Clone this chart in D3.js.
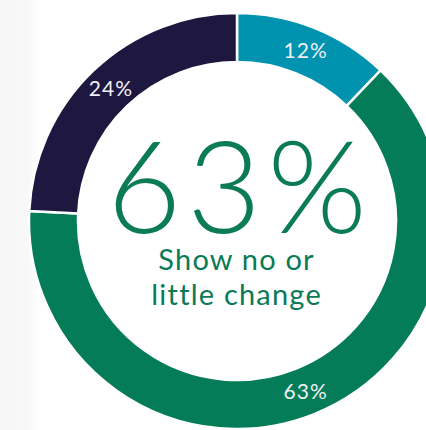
<!DOCTYPE html>
<html>
<head>
<meta charset="utf-8">
<script src="https://cdn.jsdelivr.net/npm/d3@7"></script>
<style>
  html, body { margin: 0; padding: 0; background: #ffffff; }
  svg { display: block; }
</style>
</head>
<body>
<script>
// Share of respondents by amount of change
const categories = ["Large change", "Show no or little change", "Some change"];
const values = [12, 63, 24];
const colors = ["#0093b0", "#047c57", "#1e1840"];
const headline = "63%";
const caption = ["Show no or", "little change"];

const width = 426, height = 430;
const cx = 237, cy = 221;
const outerR = 208, innerR = 159;
const fontFamily = "Lato, 'Open Sans', sans-serif";

const svg = d3.select("body").append("svg")
  .attr("width", width)
  .attr("height", height);

// soft grey page edge on the left
const defs = svg.append("defs");
const grad = defs.append("linearGradient").attr("id", "edge").attr("x1", 0).attr("x2", 1);
grad.append("stop").attr("offset", "0%").attr("stop-color", "#f6f6f6");
grad.append("stop").attr("offset", "70%").attr("stop-color", "#f8f8f8");
grad.append("stop").attr("offset", "100%").attr("stop-color", "#ffffff");
svg.append("rect").attr("x", 0).attr("y", 0).attr("width", 40).attr("height", height)
  .attr("fill", "url(#edge)");

const pie = d3.pie().sort(null).value(d => d)(values);
const arc = d3.arc().innerRadius(innerR).outerRadius(outerR);
const midR = (innerR + outerR) / 2;
const labelArc = d3.arc().innerRadius(midR).outerRadius(midR);

const g = svg.append("g").attr("transform", `translate(${cx},${cy})`);

g.selectAll("path.slice")
  .data(pie)
  .join("path")
  .attr("class", "slice")
  .attr("d", arc)
  .attr("fill", (d, i) => colors[i])
  .attr("stroke", "#ffffff")
  .attr("stroke-width", 2.5);

// value labels on the ring (letter-spacing adds a trailing gap, so nudge right by half)
const labelLs = 1;
g.selectAll("text.val")
  .data(pie)
  .join("text")
  .attr("class", "val")
  .attr("transform", d => {
    const [x, y] = labelArc.centroid(d);
    return `translate(${x + labelLs / 2},${y})`;
  })
  .attr("text-anchor", "middle")
  .attr("dy", "0.36em")
  .attr("fill", "#eef0f4")
  .attr("font-family", fontFamily)
  .attr("font-weight", 400)
  .attr("font-size", 21)
  .attr("letter-spacing", labelLs)
  .text(d => d.data + "%");

// centre headline
const headLs = 6;
g.append("text")
  .attr("x", headLs / 2)
  .attr("y", 233 - cy)
  .attr("text-anchor", "middle")
  .attr("fill", "#0b7a56")
  .attr("font-family", fontFamily)
  .attr("font-weight", 300)
  .attr("font-size", 128)
  .attr("letter-spacing", headLs)
  .text(headline);

const capLs = 1.2;
g.selectAll("text.cap")
  .data(caption)
  .join("text")
  .attr("class", "cap")
  .attr("x", capLs / 2 - 1)
  .attr("y", (d, i) => 270 - cy + i * 35)
  .attr("text-anchor", "middle")
  .attr("fill", "#0b7a56")
  .attr("font-family", fontFamily)
  .attr("font-weight", 400)
  .attr("font-size", 29)
  .attr("letter-spacing", capLs)
  .text(d => d);
</script>
</body>
</html>
